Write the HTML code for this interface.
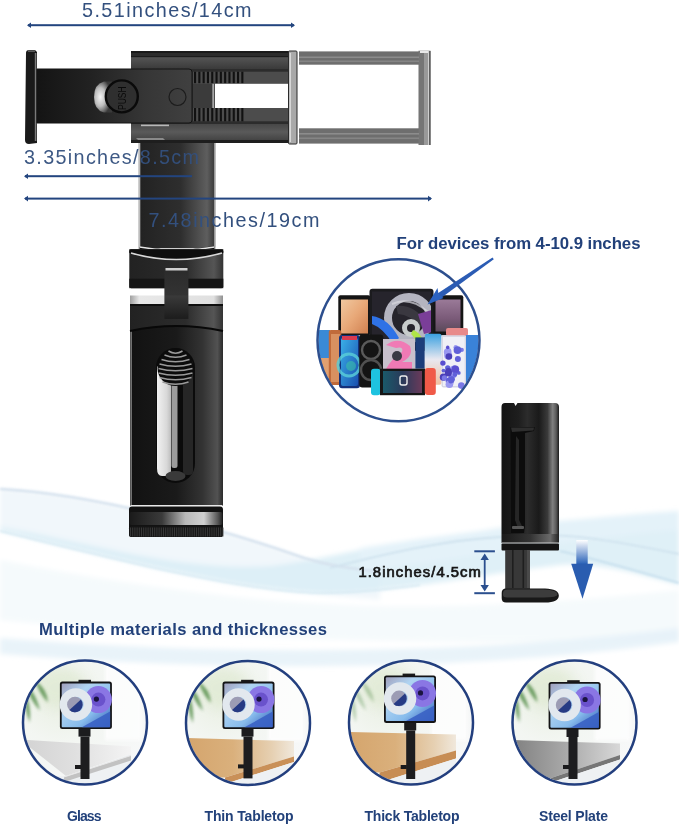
<!DOCTYPE html>
<html><head><meta charset="utf-8">
<style>
html,body{margin:0;padding:0;background:#fff;width:679px;height:825px;overflow:hidden}
svg{display:block;will-change:transform}
text{font-family:"Liberation Sans",sans-serif}
</style></head>
<body>
<svg width="679" height="825" viewBox="0 0 679 825">
<defs>
  <linearGradient id="postG" x1="0" x2="1" y1="0" y2="0">
    <stop offset="0" stop-color="#222"/><stop offset="0.55" stop-color="#2e2e2e"/><stop offset="0.9" stop-color="#5e5e5e"/><stop offset="1" stop-color="#3a3a3a"/>
  </linearGradient>
  <linearGradient id="bodyG" x1="0" x2="1" y1="0" y2="0">
    <stop offset="0" stop-color="#121212"/><stop offset="0.5" stop-color="#1a1a1a"/><stop offset="0.78" stop-color="#333"/><stop offset="0.94" stop-color="#525252"/><stop offset="1" stop-color="#2a2a2a"/>
  </linearGradient>
  <linearGradient id="cylG" x1="0" x2="1" y1="0" y2="0">
    <stop offset="0" stop-color="#141414"/><stop offset="0.3" stop-color="#1e1e1e"/><stop offset="0.45" stop-color="#2c2c2c"/><stop offset="0.65" stop-color="#1a1a1a"/><stop offset="0.8" stop-color="#3a3a3a"/><stop offset="0.89" stop-color="#808080"/><stop offset="0.95" stop-color="#5a5a5a"/><stop offset="1" stop-color="#1a1a1a"/>
  </linearGradient>
  <linearGradient id="silverV" x1="0" x2="1" y1="0" y2="0">
    <stop offset="0" stop-color="#777"/><stop offset="0.4" stop-color="#d8d8d8"/><stop offset="1" stop-color="#999"/>
  </linearGradient>
  <linearGradient id="armG" x1="0" x2="1" y1="0" y2="0">
    <stop offset="0" stop-color="#141414"/><stop offset="0.35" stop-color="#222"/><stop offset="0.7" stop-color="#363636"/><stop offset="1" stop-color="#404040"/>
  </linearGradient>
  <radialGradient id="silverC" cx="0.35" cy="0.5" r="0.6">
    <stop offset="0" stop-color="#f4f4f4"/><stop offset="0.5" stop-color="#bdbdbd"/><stop offset="1" stop-color="#3a3a3a"/>
  </radialGradient>
  <linearGradient id="housTop" x1="0" x2="0" y1="0" y2="1">
    <stop offset="0" stop-color="#555"/><stop offset="1" stop-color="#3a3a3a"/>
  </linearGradient>
  <linearGradient id="housBot" x1="0" x2="0" y1="0" y2="1">
    <stop offset="0" stop-color="#474747"/><stop offset="0.5" stop-color="#5a5a5a"/><stop offset="1" stop-color="#444"/>
  </linearGradient>
  <linearGradient id="peachG" x1="0" x2="1" y1="0" y2="1">
    <stop offset="0" stop-color="#f0c8a0"/><stop offset="0.5" stop-color="#e8a878"/><stop offset="1" stop-color="#d08050"/>
  </linearGradient>
  <linearGradient id="mauveG" x1="0" x2="0" y1="0" y2="1">
    <stop offset="0" stop-color="#9a7a98"/><stop offset="0.6" stop-color="#7a5a78"/><stop offset="1" stop-color="#5a4a5a"/>
  </linearGradient>
  <linearGradient id="blueScrG" x1="0" x2="1" y1="0" y2="1">
    <stop offset="0" stop-color="#3ab0e8"/><stop offset="1" stop-color="#1a50b0"/>
  </linearGradient>
  <linearGradient id="gradPhoneG" x1="0" x2="0" y1="0" y2="1">
    <stop offset="0" stop-color="#3aa0e0"/><stop offset="0.5" stop-color="#e8e8f0"/><stop offset="1" stop-color="#f0c0a0"/>
  </linearGradient>
  <linearGradient id="swScrG" x1="0" x2="1" y1="0" y2="0">
    <stop offset="0" stop-color="#1a5a6a"/><stop offset="0.5" stop-color="#2a3a5a"/><stop offset="1" stop-color="#6a3a5a"/>
  </linearGradient>
  <linearGradient id="connG" x1="0" x2="1" y1="0" y2="0">
    <stop offset="0" stop-color="#222"/><stop offset="0.6" stop-color="#2c2c2c"/><stop offset="0.9" stop-color="#555"/><stop offset="1" stop-color="#333"/>
  </linearGradient>
  <linearGradient id="stripG" x1="0" x2="1" y1="0" y2="0">
    <stop offset="0" stop-color="#a0a0a0"/><stop offset="0.1" stop-color="#e8e8e8"/><stop offset="0.9" stop-color="#e0e0e0"/><stop offset="1" stop-color="#909090"/>
  </linearGradient>
  <linearGradient id="tabG" x1="0" x2="0" y1="0" y2="1">
    <stop offset="0" stop-color="#2a2a2a"/><stop offset="0.55" stop-color="#333"/><stop offset="0.56" stop-color="#3a3a3a"/><stop offset="1" stop-color="#1c1c1c"/>
  </linearGradient>
  <linearGradient id="slotSilverG" x1="0" x2="1" y1="0" y2="0">
    <stop offset="0" stop-color="#f2f2f2"/><stop offset="0.7" stop-color="#d8d8d8"/><stop offset="1" stop-color="#bdbdbd"/>
  </linearGradient>
  <linearGradient id="ringG" x1="0" x2="1" y1="0" y2="0">
    <stop offset="0" stop-color="#1a1a1a"/><stop offset="0.35" stop-color="#3a3a3a"/><stop offset="0.6" stop-color="#b8b8b8"/><stop offset="0.8" stop-color="#d0d0d0"/><stop offset="0.95" stop-color="#555"/><stop offset="1" stop-color="#222"/>
  </linearGradient>
  <linearGradient id="collarG" x1="0" x2="1" y1="0" y2="0">
    <stop offset="0" stop-color="#1a1a1a"/><stop offset="0.5" stop-color="#333"/><stop offset="0.85" stop-color="#6a6a6a"/><stop offset="1" stop-color="#222"/>
  </linearGradient>
  <linearGradient id="arrowG" x1="0" x2="0" y1="0" y2="1">
    <stop offset="0" stop-color="#fff"/><stop offset="1" stop-color="#2a63b8"/>
  </linearGradient>
</defs>

<!-- background waves -->
<filter id="wblur" x="-20%" y="-50%" width="140%" height="200%"><feGaussianBlur stdDeviation="2.5"/></filter>
<filter id="wblur2" x="-20%" y="-50%" width="140%" height="200%"><feGaussianBlur stdDeviation="0.8"/></filter>
<g filter="url(#wblur)">
  <path d="M0 489 C100 495 225 530 304 558 C330 566 350 568 380 572 L380 600 C250 590 120 560 0 531 Z" fill="#f1f7fb"/>
  <path d="M0 527 C80 540 180 572 270 566 C320 560 360 548 420 539 C480 532 520 524 560 521 C600 518 640 513 679 511 L679 585 C640 575 600 562 560 565 C500 572 450 582 420 585 C380 590 340 595 300 592 C220 586 120 560 0 531 Z" fill="#d9edf6" opacity="0.85"/>
  <path d="M360 548 C420 539 520 524 679 511 L679 530 C560 540 450 560 360 572 Z" fill="#e6f3f9" opacity="0.9"/>
  <path d="M0 560 C150 590 300 610 450 606 C550 604 620 596 679 590 L679 640 C450 645 200 640 0 620 Z" fill="#f5fafc"/>
  <path d="M0 638 C200 654 450 658 679 628 L679 642 C450 674 200 670 0 654 Z" fill="#e3f0f7" opacity="0.8"/>
</g>
<g filter="url(#wblur2)" fill="none">
  <path d="M0 489 C100 495 225 530 304 558 C330 566 350 568 380 572" stroke="#d6e2ee" stroke-width="2.5"/>
  <path d="M330 568 C400 550 450 540 500 537 C560 532 590 536 679 554" stroke="#cfe2ee" stroke-width="1.8"/>
  <path d="M560 551 C600 560 640 572 679 583" stroke="#c8e0ee" stroke-width="2"/>
  <path d="M0 531 C120 560 220 586 300 592 C340 595 380 590 420 585" stroke="#d4e8f2" stroke-width="1.5"/>
</g>

<!-- dimension annotations -->
<text x="82" y="17" font-size="19.8" fill="#33507e" textLength="169.5" lengthAdjust="spacing">5.51inches/14cm</text>
<rect x="28" y="24.2" width="266" height="2" fill="#23457f"/><path d="M27 25.2 L31 22.4 L31 28 Z" fill="#23457f"/><path d="M295 25.2 L291 22.4 L291 28 Z" fill="#23457f"/>

<!-- ===== main holder ===== -->
<!-- left clamp pad -->
<path d="M26 53 Q26 50 29 50 L35 50 L37 52 L37 143 L29 144 Q25 144 25 140 Z" fill="#1a1a1a"/>
<rect x="34.8" y="53" width="1.6" height="88" fill="#7a7a7a"/>
<rect x="28" y="50.5" width="7" height="1.2" fill="#777"/>
<!-- arm -->


<!-- gray frame -->
<rect x="299" y="51.4" width="131" height="13.3" fill="#6e6e6e"/>
<rect x="299" y="128.3" width="131" height="15.3" fill="#6e6e6e"/>
<rect x="418.5" y="50.7" width="12" height="94.3" fill="#757575"/>
<rect x="299" y="56.5" width="120" height="1.6" fill="#8c8c8c"/>
<rect x="299" y="60.5" width="120" height="1.6" fill="#858585"/>
<rect x="299" y="133" width="120" height="1.6" fill="#8c8c8c"/>
<rect x="299" y="137.5" width="120" height="1.6" fill="#858585"/>
<rect x="424" y="51" width="4" height="94" fill="#999"/>
<rect x="428" y="51" width="1.2" height="94" fill="#cfcfcf"/>
<rect x="429.2" y="51" width="1.3" height="94" fill="#555"/>
<rect x="420" y="51" width="8" height="2" fill="#e8e8e8"/>
<!-- housing -->
<rect x="131" y="51" width="158" height="92" rx="2" fill="#2c2c2c"/>
<rect x="131" y="51" width="158" height="2" fill="#1a1a1a"/>
<rect x="131" y="57" width="158" height="12" fill="url(#housTop)"/>
<rect x="131" y="56" width="158" height="1.2" fill="#1c1c1c"/>
<rect x="131" y="124" width="158" height="16" fill="url(#housBot)"/>
<rect x="131" y="140" width="158" height="3" fill="#1e1e1e"/>
<rect x="141" y="124.6" width="28" height="1.6" fill="#b8b8b8"/><path d="M136 138 L163 138 L165 140 L138 140 Z" fill="#8a8a8a"/>
<!-- slider area -->
<rect x="193" y="71.7" width="95" height="49.6" fill="#4c4c4c"/>
<g fill="#111">
  <rect x="194.0" y="71.7" width="2.1" height="11.5"/><rect x="194.0" y="108" width="2.1" height="13.3"/>
  <rect x="198.3" y="71.7" width="2.1" height="11.5"/><rect x="198.3" y="108" width="2.1" height="13.3"/>
  <rect x="202.6" y="71.7" width="2.1" height="11.5"/><rect x="202.6" y="108" width="2.1" height="13.3"/>
  <rect x="206.9" y="71.7" width="2.1" height="11.5"/><rect x="206.9" y="108" width="2.1" height="13.3"/>
  <rect x="211.2" y="71.7" width="2.1" height="11.5"/><rect x="211.2" y="108" width="2.1" height="13.3"/>
  <rect x="215.5" y="71.7" width="2.1" height="11.5"/><rect x="215.5" y="108" width="2.1" height="13.3"/>
  <rect x="219.8" y="71.7" width="2.1" height="11.5"/><rect x="219.8" y="108" width="2.1" height="13.3"/>
  <rect x="224.1" y="71.7" width="2.1" height="11.5"/><rect x="224.1" y="108" width="2.1" height="13.3"/>
  <rect x="228.4" y="71.7" width="2.1" height="11.5"/><rect x="228.4" y="108" width="2.1" height="13.3"/>
  <rect x="232.7" y="71.7" width="2.1" height="11.5"/><rect x="232.7" y="108" width="2.1" height="13.3"/>
  <rect x="237.0" y="71.7" width="2.1" height="11.5"/><rect x="237.0" y="108" width="2.1" height="13.3"/>
  <rect x="241.3" y="71.7" width="2.1" height="11.5"/><rect x="241.3" y="108" width="2.1" height="13.3"/>
</g>
<rect x="193" y="83.8" width="20" height="24.2" fill="#3b3b3b"/>
<rect x="212.5" y="83.8" width="1.2" height="24.2" fill="#cfcfcf"/>
<rect x="215" y="83.8" width="73" height="24.2" fill="#fff"/>
<!-- slider plate -->
<path d="M37 69 H189 Q192 69 192 72 V120 Q192 123 189 123 H37 Z" fill="url(#armG)" stroke="#141414" stroke-width="1"/>

<circle cx="177.5" cy="97" r="8.5" fill="none" stroke="#1c1c1c" stroke-width="1.2"/>
<!-- push button -->
<path d="M112 81.5 L104 81.5 Q94 84 94 97 Q94 110 104 112.5 L112 112.5 Z" fill="url(#silverC)"/>
<circle cx="121.8" cy="96.4" r="16" fill="#2f2f2f" stroke="#0a0a0a" stroke-width="2.4"/>
<text transform="translate(126.2 98.2) rotate(-90)" x="0" y="0" font-size="10" fill="#0a0a0a" text-anchor="middle" textLength="23.5" lengthAdjust="spacingAndGlyphs">PUSH</text>
<!-- silver clamp end -->
<rect x="288.5" y="51" width="8.5" height="93" rx="1" fill="#a9a9a9" stroke="#2a2a2a" stroke-width="1"/><rect x="289.5" y="53" width="1.5" height="89" fill="#d8d8d8"/>

<!-- post -->
<rect x="138" y="143" width="78" height="106" fill="#cfcfcf"/>
<rect x="139.5" y="143" width="75" height="105" fill="url(#postG)"/>
<path d="M139.5 246 Q177 253 214.5 246 L214.5 249.5 L139.5 249.5 Z" fill="#111"/><path d="M139.5 247 Q177 254 214.5 247" fill="none" stroke="#e6e6e6" stroke-width="1.6"/><rect x="139" y="143" width="1.3" height="104" fill="#bdbdbd"/><rect x="214" y="143" width="1.3" height="104" fill="#9a9a9a"/>

<!-- dimension 2 -->
<text x="24" y="164" font-size="19.8" fill="#33507e" textLength="175" lengthAdjust="spacing" opacity="0.95">3.35inches/8.5cm</text>
<rect x="25" y="175.2" width="167" height="2" fill="#23457f"/><path d="M24 176.2 L28 173.4 L28 179 Z" fill="#23457f"/>
<rect x="25" y="197.6" width="406" height="2" fill="#23457f"/><path d="M24 198.6 L28 195.8 L28 201.4 Z" fill="#23457f"/><path d="M432 198.6 L428 195.8 L428 201.4 Z" fill="#23457f"/>
<text x="148.5" y="227" font-size="19.8" fill="#33507e" textLength="171" lengthAdjust="spacing">7.48inches/19cm</text>

<!-- connector -->
<rect x="129.3" y="249.3" width="94" height="39" rx="2" fill="url(#connG)"/>
<path d="M129.3 249.3 H223.3 V253 Q176 266 129.3 253 Z" fill="#0e0e0e"/>
<path d="M131 253 Q176 266 222 253" fill="none" stroke="#d8d8d8" stroke-width="1.6"/>
<rect x="129.3" y="278.7" width="94" height="9.5" fill="#151515"/>
<rect x="130" y="295.5" width="93" height="9" fill="url(#stripG)"/>
<rect x="130" y="304" width="93" height="202" fill="url(#bodyG)"/>
<rect x="130.5" y="304" width="1.2" height="202" fill="#9a9a9a"/>
<path d="M130 304 H223 V331 Q176 321 130 331 Z" fill="url(#connG)"/>
<path d="M130 331 Q176 321 223 331" fill="none" stroke="#080808" stroke-width="2.2"/>
<rect x="130" y="304" width="93" height="2" fill="#0e0e0e"/>
<rect x="164.4" y="266.3" width="24" height="52.6" fill="url(#tabG)"/>
<rect x="165.5" y="268" width="22" height="2.5" fill="#cfcfcf"/>
<!-- slot -->
<rect x="156" y="348" width="39" height="135" rx="19.5" fill="#0b0b0b"/>
<rect x="183" y="360" width="10" height="115" rx="4" fill="#262626"/>
<path d="M157 366 L171 380 V472 Q171 476 167 476 L162 476 Q157 476 157 468 Z" fill="url(#slotSilverG)"/>
<rect x="171.5" y="380" width="6" height="88" rx="2.5" fill="#9c9c9c"/>
<ellipse cx="175.5" cy="476" rx="10" ry="5" fill="#3a3a3a"/>
<circle cx="175.5" cy="368" r="18" fill="#0c0c0c"/>
<g fill="none" stroke="#9a9a9a" stroke-width="1.5">
  <path d="M168.5 351.0 Q175.5 355.5 182.5 351.0"/>
  <path d="M164.5 355.0 Q175.5 359.5 186.5 355.0"/>
  <path d="M161.5 359.5 Q175.5 364.0 189.5 359.5"/>
  <path d="M159.5 364.0 Q175.5 368.5 191.5 364.0"/>
  <path d="M158.5 368.5 Q175.5 373.0 192.5 368.5"/>
  <path d="M158.5 373.0 Q175.5 377.5 192.5 373.0"/>
  <path d="M159.5 377.5 Q175.5 382.0 191.5 377.5"/>
  <path d="M162.5 382.0 Q175.5 386.5 188.5 382.0"/>
</g>
<!-- knob -->
<rect x="130.5" y="505" width="92" height="1.5" fill="#e8e8e8"/>
<rect x="129" y="506.5" width="94" height="30.5" rx="3" fill="#121212"/>
<rect x="129.5" y="512" width="93" height="13" rx="2" fill="url(#ringG)"/>
<rect x="129" y="526.5" width="94" height="10.5" rx="2" fill="#161616"/>
<rect x="130.0" y="527.5" width="1" height="9" fill="#383838"/><rect x="132.2" y="527.5" width="1" height="9" fill="#383838"/><rect x="134.4" y="527.5" width="1" height="9" fill="#383838"/><rect x="136.6" y="527.5" width="1" height="9" fill="#383838"/><rect x="138.8" y="527.5" width="1" height="9" fill="#383838"/><rect x="141.0" y="527.5" width="1" height="9" fill="#383838"/><rect x="143.2" y="527.5" width="1" height="9" fill="#383838"/><rect x="145.4" y="527.5" width="1" height="9" fill="#383838"/><rect x="147.6" y="527.5" width="1" height="9" fill="#383838"/><rect x="149.8" y="527.5" width="1" height="9" fill="#383838"/><rect x="152.0" y="527.5" width="1" height="9" fill="#383838"/><rect x="154.2" y="527.5" width="1" height="9" fill="#383838"/><rect x="156.4" y="527.5" width="1" height="9" fill="#383838"/><rect x="158.6" y="527.5" width="1" height="9" fill="#383838"/><rect x="160.8" y="527.5" width="1" height="9" fill="#383838"/><rect x="163.0" y="527.5" width="1" height="9" fill="#383838"/><rect x="165.2" y="527.5" width="1" height="9" fill="#383838"/><rect x="167.4" y="527.5" width="1" height="9" fill="#383838"/><rect x="169.6" y="527.5" width="1" height="9" fill="#383838"/><rect x="171.8" y="527.5" width="1" height="9" fill="#383838"/><rect x="174.0" y="527.5" width="1" height="9" fill="#383838"/><rect x="176.2" y="527.5" width="1" height="9" fill="#383838"/><rect x="178.4" y="527.5" width="1" height="9" fill="#383838"/><rect x="180.6" y="527.5" width="1" height="9" fill="#383838"/><rect x="182.8" y="527.5" width="1" height="9" fill="#383838"/><rect x="185.0" y="527.5" width="1" height="9" fill="#383838"/><rect x="187.2" y="527.5" width="1" height="9" fill="#383838"/><rect x="189.4" y="527.5" width="1" height="9" fill="#383838"/><rect x="191.6" y="527.5" width="1" height="9" fill="#383838"/><rect x="193.8" y="527.5" width="1" height="9" fill="#383838"/><rect x="196.0" y="527.5" width="1" height="9" fill="#383838"/><rect x="198.2" y="527.5" width="1" height="9" fill="#383838"/><rect x="200.4" y="527.5" width="1" height="9" fill="#383838"/><rect x="202.6" y="527.5" width="1" height="9" fill="#383838"/><rect x="204.8" y="527.5" width="1" height="9" fill="#383838"/><rect x="207.0" y="527.5" width="1" height="9" fill="#383838"/><rect x="209.2" y="527.5" width="1" height="9" fill="#383838"/><rect x="211.4" y="527.5" width="1" height="9" fill="#383838"/><rect x="213.6" y="527.5" width="1" height="9" fill="#383838"/><rect x="215.8" y="527.5" width="1" height="9" fill="#383838"/><rect x="218.0" y="527.5" width="1" height="9" fill="#383838"/><rect x="220.2" y="527.5" width="1" height="9" fill="#383838"/><rect x="222.4" y="527.5" width="1" height="9" fill="#383838"/>

<!-- ===== devices circle ===== -->
<text x="396.5" y="249" font-size="16.8" font-weight="bold" fill="#22417a" textLength="244" lengthAdjust="spacing">For devices from 4-10.9 inches</text>
<clipPath id="devClip"><circle cx="398.5" cy="340.3" r="80"/></clipPath>
<circle cx="398.5" cy="340.3" r="81" fill="#fff"/>
<g clip-path="url(#devClip)">
  <!-- left laptop -->
  <rect x="338.3" y="295.3" width="32" height="40" rx="2" fill="#151515"/>
  <rect x="341" y="299.5" width="27" height="34" fill="url(#peachG)"/>
  <!-- right laptop -->
  <rect x="432.8" y="295.3" width="30.5" height="40" rx="2" fill="#151515"/>
  <rect x="435.5" y="299.5" width="25" height="32" fill="url(#mauveG)"/>
  <!-- iPad -->
  <rect x="369.5" y="288.7" width="64" height="62" rx="3" fill="#1b1b1e"/>
  <rect x="372" y="291.5" width="59" height="56" fill="#26242c"/>
  <clipPath id="ipadScr"><rect x="372" y="291.5" width="59" height="56"/></clipPath>
  <g clip-path="url(#ipadScr)">
    <circle cx="409" cy="318" r="21" fill="none" stroke="#b4b4c0" stroke-width="8"/>
    <path d="M392 304 Q410 296 428 312" stroke="#d8d8e0" stroke-width="2" fill="none" opacity="0.7"/>
    <path d="M396 306 Q414 304 426 322 L420 328 Q410 314 398 314 Z" fill="#3a3840"/>
    <path d="M418 314 L432 310 L432 332 L424 334 Z" fill="#7a3e98"/>
    <circle cx="411" cy="328" r="6.5" fill="none" stroke="#c8cccc" stroke-width="5"/>
    <path d="M413 330 Q420 332 424 342 L417 344 Q414 336 411 334 Z" fill="#b0e648"/>
    <path d="M372 316 Q388 318 399 338 L393 344 Q383 328 372 324 Z" fill="#2f72e6"/>
  </g>
  <!-- pink items -->
  <rect x="446" y="328" width="22" height="8" rx="2" fill="#e88a8a"/>
  <!-- far left phone -->
  <rect x="318" y="330" width="12" height="52" fill="#3a8ad6"/>
  <rect x="318" y="358" width="12" height="20" fill="#e0a070"/>
  <!-- iPhone XS -->
  <rect x="328.8" y="330" width="12.5" height="55" rx="2" fill="#c06a3a"/>
  <rect x="331" y="334" width="9" height="48" fill="#d89060"/>
  <!-- iPhone 12 blue -->
  <rect x="339" y="335" width="21" height="53.3" rx="3" fill="#14307a"/>
  <rect x="341" y="338" width="17" height="48" rx="2" fill="url(#blueScrG)"/>
  <circle cx="349" cy="365" r="11" fill="none" stroke="#5ad0d8" stroke-width="3" opacity="0.8"/><circle cx="351" cy="366" r="5" fill="#3ac0a8" opacity="0.6"/>
  <rect x="342" y="336" width="15" height="4" fill="#d83a50"/>
  <!-- iPhone 12 Pro -->
  <rect x="359.3" y="334.5" width="24" height="53" rx="3" fill="#141414"/>
  <circle cx="371" cy="350" r="9" fill="none" stroke="#5a5a5a" stroke-width="2.4"/>
  <circle cx="371" cy="370" r="10" fill="none" stroke="#505050" stroke-width="2.4"/>
  <!-- iPad 2 pink -->
  <rect x="383" y="339" width="32" height="30" fill="#c8c0cc"/>
  <path d="M386 345 Q398 336 410 346 Q414 356 402 362 L412 362 L412 369 L386 369 Q392 358 402 352 Q404 346 396 348 Z" fill="#f07ab5"/>
  <circle cx="397" cy="356" r="5" fill="#3a3a44"/>
  <rect x="415.3" y="337.4" width="9.5" height="31.3" fill="#1c3d7a"/>
  <!-- gradient phone -->
  <rect x="424.8" y="333.8" width="16.7" height="51" rx="2" fill="url(#gradPhoneG)"/>
  <!-- S20 -->
  <rect x="441.5" y="335.2" width="24.7" height="52.4" rx="2" fill="#d8d8e4"/>
  <rect x="443" y="337" width="21.7" height="49" fill="#f0f0f6"/>
  <g><circle cx="447.7" cy="367.8" r="2.6" fill="#6060d8"/><circle cx="452.9" cy="369.2" r="3.1" fill="#9a98f0"/><circle cx="448.2" cy="355.4" r="4.0" fill="#9a98f0"/><circle cx="454.4" cy="368.0" r="2.7" fill="#7a78e6"/><circle cx="447.6" cy="352.1" r="3.8" fill="#9a98f0"/><circle cx="458.8" cy="372.9" r="1.9" fill="#6060d8"/><circle cx="443.4" cy="377.2" r="3.6" fill="#4a3fb8"/><circle cx="452.9" cy="374.8" r="3.7" fill="#9a98f0"/><circle cx="451.2" cy="378.0" r="2.8" fill="#7a78e6"/><circle cx="461.8" cy="349.9" r="2.1" fill="#7a78e6"/><circle cx="448.2" cy="372.9" r="3.5" fill="#4a3fb8"/><circle cx="451.8" cy="379.3" r="3.1" fill="#6060d8"/><circle cx="455.4" cy="369.4" r="3.8" fill="#5a4fd0"/><circle cx="461.3" cy="385.6" r="3.3" fill="#7a78e6"/><circle cx="457.9" cy="359.1" r="3.0" fill="#6060d8"/><circle cx="455.0" cy="374.6" r="2.3" fill="#6060d8"/><circle cx="448.4" cy="351.0" r="2.9" fill="#9a98f0"/><circle cx="444.4" cy="378.0" r="2.7" fill="#7a78e6"/><circle cx="442.9" cy="363.1" r="2.7" fill="#5a4fd0"/><circle cx="443.5" cy="370.6" r="1.9" fill="#6060d8"/><circle cx="449.8" cy="381.2" r="4.0" fill="#6060d8"/><circle cx="447.7" cy="347.4" r="1.8" fill="#5a4fd0"/><circle cx="455.7" cy="347.3" r="2.2" fill="#9a98f0"/><circle cx="448.9" cy="356.5" r="3.3" fill="#4a3fb8"/><circle cx="449.4" cy="384.3" r="3.8" fill="#9a98f0"/><circle cx="450.8" cy="380.8" r="2.6" fill="#6060d8"/><circle cx="457.5" cy="350.1" r="3.9" fill="#6060d8"/><circle cx="448.5" cy="371.4" r="3.4" fill="#4a3fb8"/></g>
  <!-- right phone -->
  <rect x="466" y="335" width="16" height="52" fill="#3a82d8"/>
  <!-- Switch -->
  <rect x="371" y="368.7" width="9.5" height="26.5" rx="3" fill="#1ec3e0"/>
  <rect x="380" y="368.7" width="45" height="26.5" fill="#161616"/>
  <rect x="383" y="371" width="39" height="22" fill="url(#swScrG)"/>
  <rect x="424.8" y="368" width="11" height="27" rx="3" fill="#f05a48"/>
  <rect x="400" y="376" width="7" height="9" rx="2" fill="none" stroke="#eee" stroke-width="1.4"/>
</g>
<circle cx="398.5" cy="340.3" r="81" fill="none" stroke="#2d4f8e" stroke-width="2.5"/>
<!-- arrow -->
<path d="M492.5 257.5 L493.8 259.3 L441 298 L437.5 293.5 Z" fill="#2b5cb4"/>
<path d="M427.5 304.5 L437.5 288 L438.5 294 L443.5 298 Z" fill="#2b62c0"/>

<!-- ===== right clamp ===== -->
<path d="M501.5 407 Q501.5 403 505 403 L514 403 L515.6 406 L517.5 403 L555 403 Q559 403 559 407 L559 534 L501.5 534 Z" fill="url(#cylG)"/>
<path d="M510.5 427 L534.7 427 L534 431 L525 433 L525 526 L524 533 L511 533 Z" fill="#0c0c0c"/>
<path d="M511 427.5 L534 427.5 L533.5 430.5 L512 432 Z" fill="#2e2e2e"/>
<path d="M516 436 L519 440 L519 520 L523 528 L518 528 L515 520 Z" fill="#262626"/>
<rect x="512" y="526" width="12" height="3" rx="1" fill="#555"/>
<rect x="501.5" y="534" width="57.5" height="9" fill="url(#collarG)"/>
<rect x="501.5" y="542.5" width="57.5" height="1" fill="#cfcfcf"/>
<rect x="501.5" y="543.5" width="57.5" height="7" rx="1" fill="#141414"/>
<rect x="505.2" y="550" width="24.8" height="40" fill="#383838"/>
<rect x="512" y="550" width="1.6" height="38" fill="#1e1e1e"/>
<rect x="522.5" y="550" width="1.6" height="38" fill="#1e1e1e"/>
<rect x="527" y="550" width="3" height="38" fill="#4a4a4a"/>
<path d="M501.7 593 Q501.7 588.5 506 588.5 L545 588.5 Q558.8 589 558.8 595.5 Q558.8 602.5 545 602.5 L506 602.5 Q501.7 602.5 501.7 598 Z" fill="#181818"/>
<path d="M503 593.5 Q503 589.5 507 589.5 L544 589.5 Q557.5 590 557.5 594.5 Q557.5 597.5 544 597.5 L507 597.5 Q503 597.5 503 595 Z" fill="#3c3c3c"/>
<rect x="576.3" y="540" width="11.4" height="24" fill="url(#arrowG)"/>
<path d="M571.2 563.7 L593.2 563.7 L582.5 598.8 Z" fill="#2a5db0"/>
<text x="358.4" y="576.5" font-size="14.8" fill="#161616" stroke="#161616" stroke-width="0.7" textLength="122.5" lengthAdjust="spacing">1.8inches/4.5cm</text>
<rect x="474.3" y="550.3" width="20.6" height="2" fill="#2b4f8e"/>
<rect x="474.3" y="592.2" width="20.6" height="2" fill="#2b4f8e"/>
<rect x="483.8" y="556" width="1.8" height="33" fill="#2b4f8e"/>
<path d="M480.5 560 L484.7 553.5 L488.9 560 Z" fill="#2b4f8e"/>
<path d="M480.5 585 L484.7 591.5 L488.9 585 Z" fill="#2b4f8e"/>

<!-- ===== materials ===== -->
<text x="39" y="634.5" font-size="16.6" font-weight="bold" fill="#22417a" textLength="288" lengthAdjust="spacing">Multiple materials and thicknesses</text>

<!--MAT_START-->
<defs>
<clipPath id="mc0"><circle cx="85" cy="722.5" r="61"/></clipPath>
<clipPath id="mc1"><circle cx="248" cy="723" r="61"/></clipPath>
<clipPath id="mc2"><circle cx="411" cy="722.5" r="61"/></clipPath>
<clipPath id="mc3"><circle cx="574.5" cy="722.5" r="61"/></clipPath>
<filter id="blur1" x="-50%" y="-50%" width="200%" height="200%"><feGaussianBlur stdDeviation="1.6"/></filter>
<filter id="blur2" x="-50%" y="-50%" width="200%" height="200%"><feGaussianBlur stdDeviation="6"/></filter>
<radialGradient id="bgMat" cx="0.3" cy="0.3" r="0.8">
  <stop offset="0" stop-color="#e9efe2"/><stop offset="0.45" stop-color="#f3f6f2"/><stop offset="1" stop-color="#f7f8f9"/>
</radialGradient>
<linearGradient id="woodTop" x1="0" x2="1" y1="0" y2="0">
  <stop offset="0" stop-color="#d4a46c"/><stop offset="0.45" stop-color="#dab07c"/><stop offset="0.8" stop-color="#e6d0b2"/><stop offset="1" stop-color="#f0e8dc"/>
</linearGradient>
<linearGradient id="steelTop" x1="0" x2="1" y1="0" y2="0">
  <stop offset="0" stop-color="#7e7e7e"/><stop offset="0.5" stop-color="#a8a8a8"/><stop offset="1" stop-color="#d8d8d8"/>
</linearGradient>
<linearGradient id="glassTop" x1="0" x2="1" y1="0" y2="0">
  <stop offset="0" stop-color="#d2d2d2"/><stop offset="0.5" stop-color="#e0e0e0"/><stop offset="1" stop-color="#f4f4f4"/>
</linearGradient>
<linearGradient id="scrG" x1="0" x2="1" y1="0" y2="1">
  <stop offset="0" stop-color="#a0a0bc"/><stop offset="0.3" stop-color="#b0d4f2"/><stop offset="0.65" stop-color="#88bcec"/><stop offset="1" stop-color="#3058b8"/>
</linearGradient>
</defs>
<circle cx="85" cy="722.5" r="62" fill="url(#bgMat)"/>
<g clip-path="url(#mc0)">
  <rect x="105.0" y="660.5" width="36" height="80" fill="#fdfdfd" opacity="0.9" filter="url(#blur1)"/>
  <ellipse cx="60.0" cy="687.5" rx="26" ry="20" fill="#dfe9d2" opacity="0.7" filter="url(#blur2)"/>
  <g filter="url(#blur1)" fill="#4f8a44" opacity="0.80"><path d="M25.0 684.5 q10 6 15 26 q-9 -9 -15 -26Z"/><path d="M25.0 692.5 q6 10 5 30 q-6 -12 -5 -30Z"/><path d="M35.0 680.5 q12 8 13 22 q-8 -8 -13 -22Z"/></g>
  <path d="M20.0 739.5 L131.0 746.5 L131.0 754.0 L66.0 776.0 Z" fill="url(#glassTop)"/>
  <path d="M20.0 776.0 L66.0 776.0 L131.0 754.0 L131.0 792.5 Z" fill="#eef1f3"/>
  <path d="M64.0 777.0 L131.0 755.5 L131.0 760.5 L64.0 782.0 Z" fill="#c2c2c2"/>
  <path d="M64.0 777.0 L131.0 755.5" stroke="#e8e8e8" stroke-width="1"/>
  <rect x="78.5" y="728.6" width="12" height="8" fill="#1c1c1e"/>
  <rect x="80.5" y="736.6" width="9" height="42.4" fill="#1d1d1f"/>
  <rect x="75.0" y="765.0" width="6" height="4" fill="#1a1a1c"/>
  <rect x="78.5" y="679.8" width="12.5" height="3" fill="#1a1a1a"/>
  <rect x="59.9" y="681.6" width="52" height="47.5" rx="2.5" fill="#141416"/>
  <rect x="61.7" y="683.4" width="48.4" height="43.9" rx="1" fill="url(#scrG)"/>
  <circle cx="98.4" cy="699.6" r="13.5" fill="#8a76e4"/>
  <circle cx="98.4" cy="699.6" r="7" fill="#6a52cc"/>
  <circle cx="96.4" cy="699.1" r="2.6" fill="#1a1440"/>
  <path d="M81.9 727.3 L110.1 711.6 L110.1 727.3 Z" fill="#3a62c4" opacity="0.9"/>
  <circle cx="75.9" cy="704.6" r="12" fill="none" stroke="#e2e8ee" stroke-width="8.5"/>
  <circle cx="74.9" cy="704.6" r="7.8" fill="#9c9cb4"/>
  <path d="M80.9 699.6 A7.8 7.8 0 0 1 69.4 710.1 Z" fill="#263a84"/>
</g>
<circle cx="85" cy="722.5" r="62" fill="none" stroke="#233f7e" stroke-width="2.5"/>
<circle cx="248" cy="723" r="62" fill="url(#bgMat)"/>
<g clip-path="url(#mc1)">
  <rect x="268.0" y="661.0" width="36" height="80" fill="#fdfdfd" opacity="0.9" filter="url(#blur1)"/>
  <ellipse cx="223.0" cy="688.0" rx="26" ry="20" fill="#dfe9d2" opacity="0.7" filter="url(#blur2)"/>
  <g filter="url(#blur1)" fill="#4f8a44" opacity="0.80"><path d="M188.0 685.0 q10 6 15 26 q-9 -9 -15 -26Z"/><path d="M188.0 693.0 q6 10 5 30 q-6 -12 -5 -30Z"/><path d="M198.0 681.0 q12 8 13 22 q-8 -8 -13 -22Z"/></g>
  <path d="M183.0 738.0 L294.0 741.0 L294.0 756.4 L225.0 777.5 L183.0 777.5 Z" fill="url(#woodTop)"/>
  <path d="M225.0 777.5 L294.0 756.4 L294.0 762.0 L225.0 784.0 Z" fill="#c99058"/>
  <path d="M225.0 784.0 L294.0 762.0 L294.0 793.0 L225.0 793.0 Z" fill="#eef1f3"/>
  <rect x="241.5" y="728.6" width="12" height="8" fill="#1c1c1e"/>
  <rect x="243.5" y="736.6" width="9" height="41.8" fill="#1d1d1f"/>
  <rect x="238.0" y="764.4" width="6" height="4" fill="#1a1a1c"/>
  <rect x="241.1" y="679.8" width="12.5" height="3" fill="#1a1a1a"/>
  <rect x="222.5" y="681.6" width="52" height="47.5" rx="2.5" fill="#141416"/>
  <rect x="224.3" y="683.4" width="48.4" height="43.9" rx="1" fill="url(#scrG)"/>
  <circle cx="261.0" cy="699.6" r="13.5" fill="#8a76e4"/>
  <circle cx="261.0" cy="699.6" r="7" fill="#6a52cc"/>
  <circle cx="259.0" cy="699.1" r="2.6" fill="#1a1440"/>
  <path d="M244.5 727.3 L272.7 711.6 L272.7 727.3 Z" fill="#3a62c4" opacity="0.9"/>
  <circle cx="238.5" cy="704.6" r="12" fill="none" stroke="#e2e8ee" stroke-width="8.5"/>
  <circle cx="237.5" cy="704.6" r="7.8" fill="#9c9cb4"/>
  <path d="M243.5 699.6 A7.8 7.8 0 0 1 232.0 710.1 Z" fill="#263a84"/>
</g>
<circle cx="248" cy="723" r="62" fill="none" stroke="#233f7e" stroke-width="2.5"/>
<circle cx="411" cy="722.5" r="62" fill="url(#bgMat)"/>
<g clip-path="url(#mc2)">
  <rect x="431.0" y="660.5" width="36" height="80" fill="#fdfdfd" opacity="0.9" filter="url(#blur1)"/>
  <ellipse cx="386.0" cy="687.5" rx="26" ry="20" fill="#dfe9d2" opacity="0.7" filter="url(#blur2)"/>
  <g filter="url(#blur1)" fill="#4f8a44" opacity="0.35"><path d="M351.0 684.5 q10 6 15 26 q-9 -9 -15 -26Z"/><path d="M351.0 692.5 q6 10 5 30 q-6 -12 -5 -30Z"/><path d="M361.0 680.5 q12 8 13 22 q-8 -8 -13 -22Z"/></g>
  <path d="M346.0 732.0 L456.0 734.5 L456.0 750.5 L379.5 772.5 L346.0 772.5 Z" fill="url(#woodTop)"/>
  <path d="M379.5 772.5 L456.0 750.5 L456.0 758.5 L379.5 782.5 Z" fill="#c78d54"/>
  <path d="M379.5 782.5 L456.0 758.5 L456.0 792.5 L379.5 792.5 Z" fill="#eef1f3"/>
  <rect x="404.2" y="722.4" width="12" height="8" fill="#1c1c1e"/>
  <rect x="406.2" y="730.4" width="9" height="48.6" fill="#1d1d1f"/>
  <rect x="400.7" y="765.0" width="6" height="4" fill="#1a1a1c"/>
  <rect x="402.6" y="673.6" width="12.5" height="3" fill="#1a1a1a"/>
  <rect x="384.0" y="675.4" width="52" height="47.5" rx="2.5" fill="#141416"/>
  <rect x="385.8" y="677.2" width="48.4" height="43.9" rx="1" fill="url(#scrG)"/>
  <circle cx="422.5" cy="693.4" r="13.5" fill="#8a76e4"/>
  <circle cx="422.5" cy="693.4" r="7" fill="#6a52cc"/>
  <circle cx="420.5" cy="692.9" r="2.6" fill="#1a1440"/>
  <path d="M406.0 721.1 L434.2 705.4 L434.2 721.1 Z" fill="#3a62c4" opacity="0.9"/>
  <circle cx="400.0" cy="698.4" r="12" fill="none" stroke="#e2e8ee" stroke-width="8.5"/>
  <circle cx="399.0" cy="698.4" r="7.8" fill="#9c9cb4"/>
  <path d="M405.0 693.4 A7.8 7.8 0 0 1 393.5 703.9 Z" fill="#263a84"/>
</g>
<circle cx="411" cy="722.5" r="62" fill="none" stroke="#233f7e" stroke-width="2.5"/>
<circle cx="574.5" cy="722.5" r="62" fill="url(#bgMat)"/>
<g clip-path="url(#mc3)">
  <rect x="594.5" y="660.5" width="36" height="80" fill="#fdfdfd" opacity="0.9" filter="url(#blur1)"/>
  <ellipse cx="549.5" cy="687.5" rx="26" ry="20" fill="#dfe9d2" opacity="0.7" filter="url(#blur2)"/>
  <g filter="url(#blur1)" fill="#4f8a44" opacity="0.80"><path d="M514.5 684.5 q10 6 15 26 q-9 -9 -15 -26Z"/><path d="M514.5 692.5 q6 10 5 30 q-6 -12 -5 -30Z"/><path d="M524.5 680.5 q12 8 13 22 q-8 -8 -13 -22Z"/></g>
  <path d="M509.5 740.0 L620.0 743.5 L620.0 755.0 L551.0 778.0 L509.5 778.0 Z" fill="url(#steelTop)"/>
  <path d="M551.0 778.0 L620.0 755.0 L620.0 759.5 L551.0 782.5 Z" fill="#767676"/>
  <path d="M551.0 782.5 L620.0 759.5 L620.0 792.5 L551.0 792.5 Z" fill="#eef1f3"/>
  <rect x="566.5" y="729.0" width="12" height="8" fill="#1c1c1e"/>
  <rect x="568.5" y="737.0" width="9" height="42.0" fill="#1d1d1f"/>
  <rect x="563.0" y="765.0" width="6" height="4" fill="#1a1a1c"/>
  <rect x="567.2" y="680.2" width="12.5" height="3" fill="#1a1a1a"/>
  <rect x="548.6" y="682.0" width="52" height="47.5" rx="2.5" fill="#141416"/>
  <rect x="550.4" y="683.8" width="48.4" height="43.9" rx="1" fill="url(#scrG)"/>
  <circle cx="587.1" cy="700.0" r="13.5" fill="#8a76e4"/>
  <circle cx="587.1" cy="700.0" r="7" fill="#6a52cc"/>
  <circle cx="585.1" cy="699.5" r="2.6" fill="#1a1440"/>
  <path d="M570.6 727.7 L598.8 712.0 L598.8 727.7 Z" fill="#3a62c4" opacity="0.9"/>
  <circle cx="564.6" cy="705.0" r="12" fill="none" stroke="#e2e8ee" stroke-width="8.5"/>
  <circle cx="563.6" cy="705.0" r="7.8" fill="#9c9cb4"/>
  <path d="M569.6 700.0 A7.8 7.8 0 0 1 558.1 710.5 Z" fill="#263a84"/>
</g>
<circle cx="574.5" cy="722.5" r="62" fill="none" stroke="#233f7e" stroke-width="2.5"/>
<!--MAT_END-->
<text x="67" y="820.5" font-size="14" font-weight="bold" fill="#22417a" textLength="34.5" lengthAdjust="spacing">Glass</text>
<text x="204.5" y="820.5" font-size="14" font-weight="bold" fill="#22417a" textLength="89" lengthAdjust="spacing">Thin Tabletop</text>
<text x="364.5" y="820.5" font-size="14" font-weight="bold" fill="#22417a" textLength="95" lengthAdjust="spacing">Thick Tabletop</text>
<text x="539" y="820.5" font-size="14" font-weight="bold" fill="#22417a" textLength="69" lengthAdjust="spacing">Steel Plate</text>
</svg>
</body></html>
